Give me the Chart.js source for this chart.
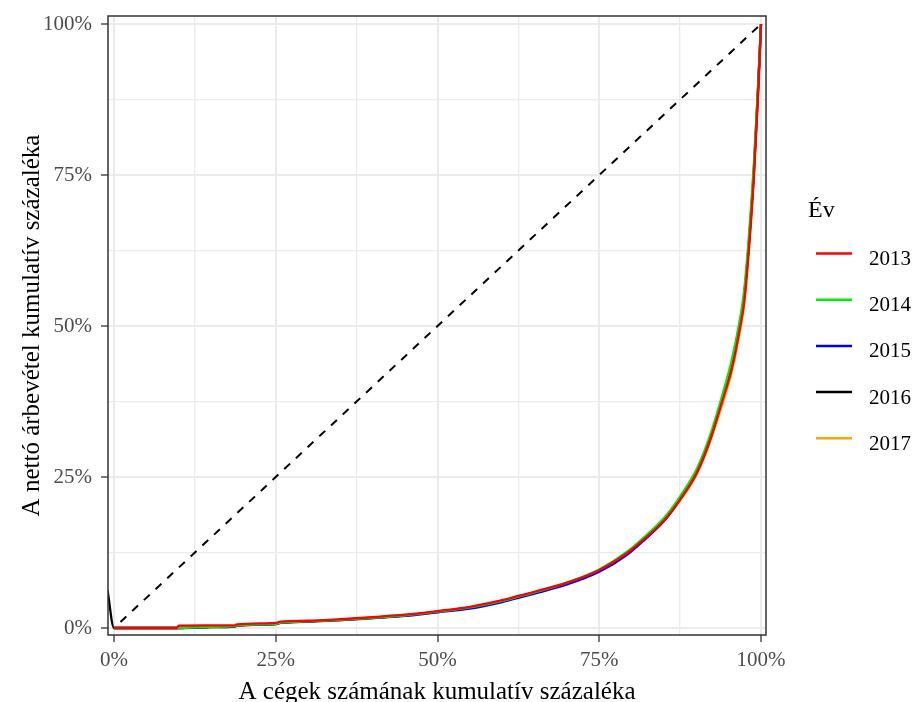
<!DOCTYPE html>
<html>
<head>
<meta charset="utf-8">
<script src="https://cdn.jsdelivr.net/npm/chart.js@4/dist/chart.umd.min.js"></script>
<style>
html,body{margin:0;padding:0;background:#fff;}
#c{display:block;}
</style>
</head>
<body>
<canvas id="c" width="919" height="702"></canvas>
<script>
// ---- data ----
const years = ['2013', '2014', '2015', '2016', '2017'];
const colors = ['#FF0000', '#00EE00', '#0000FF', '#000000', '#FFA500'];
// cumulative share of firms (x)
const cumFirms = [0, 0.05, 0.097, 0.10, 0.15, 0.187, 0.19, 0.25, 0.257, 0.30, 0.35, 0.40, 0.45, 0.50, 0.55, 0.60, 0.625, 0.65, 0.70, 0.75, 0.794, 0.82, 0.85, 0.875, 0.901, 0.92, 0.94, 0.955, 0.968, 0.974, 0.981, 0.989, 0.995, 1.0];
// cumulative share of net revenue (y) per year
const rev2013 = [0, 0, 0, 0.004, 0.0042, 0.0045, 0.006, 0.0085, 0.0105, 0.012, 0.0145, 0.018, 0.022, 0.028, 0.035, 0.046, 0.053, 0.060, 0.075, 0.096, 0.125, 0.148, 0.178, 0.213, 0.258, 0.308, 0.375, 0.43, 0.50, 0.54, 0.625, 0.75, 0.875, 1.0];
const rev2014 = [0, 0, 0, 0, 0.002, 0.003, 0.0045, 0.007, 0.009, 0.011, 0.0135, 0.017, 0.021, 0.027, 0.034, 0.045, 0.052, 0.059, 0.075, 0.097, 0.127, 0.151, 0.182, 0.218, 0.264, 0.315, 0.385, 0.445, 0.515, 0.56, 0.645, 0.77, 0.89, 1.0];
const rev2015 = [0, 0, 0, 0, 0.0015, 0.0025, 0.004, 0.0065, 0.0085, 0.0105, 0.013, 0.0165, 0.020, 0.026, 0.032, 0.043, 0.05, 0.057, 0.072, 0.093, 0.122, 0.146, 0.177, 0.213, 0.258, 0.308, 0.378, 0.435, 0.505, 0.548, 0.632, 0.755, 0.88, 1.0];
const rev2016 = [0, 0, 0, 0, 0.002, 0.003, 0.0045, 0.007, 0.009, 0.011, 0.0135, 0.017, 0.021, 0.027, 0.034, 0.045, 0.052, 0.059, 0.074, 0.095, 0.125, 0.149, 0.180, 0.215, 0.260, 0.311, 0.38, 0.44, 0.51, 0.552, 0.636, 0.76, 0.885, 1.0];
const rev2017 = [0, 0, 0, 0, 0.001, 0.002, 0.0035, 0.006, 0.008, 0.010, 0.0125, 0.016, 0.020, 0.026, 0.033, 0.044, 0.051, 0.058, 0.073, 0.094, 0.123, 0.147, 0.177, 0.211, 0.255, 0.304, 0.37, 0.425, 0.495, 0.535, 0.62, 0.745, 0.87, 1.0];
// 2016 has an extra leading point
const lead2016X = [-0.01];
const lead2016Y = [0.062];
// equality (diagonal) line
const equalX = [0.01, 1.0];
const equalY = [0.01, 1.0];
// axis ticks
const tickValues = [0, 0.125, 0.25, 0.375, 0.5, 0.625, 0.75, 0.875, 1.0];
const majorTicks = [0, 0.25, 0.5, 0.75, 1.0];

const xTitle = 'A cégek számának kumulatív százaléka';
const yTitle = 'A nettó árbevétel kumulatív százaléka';
const legendTitle = 'Év';

// ---- build ----
const toPts = (xs, ys) => xs.map((x, i) => ({x: x, y: ys[i]}));
const revSeries = [rev2013, rev2014, rev2015, rev2016, rev2017];
const datasets = years.map((yr, i) => {
  let xs = cumFirms, ys = revSeries[i];
  if (yr === '2016') { xs = lead2016X.concat(cumFirms); ys = lead2016Y.concat(rev2016); }
  return {
    label: yr, data: toPts(xs, ys), borderColor: colors[i], backgroundColor: colors[i],
    borderWidth: 2.3, pointRadius: 0, cubicInterpolationMode: 'monotone', fill: false, inLegend: true
  };
});
datasets.push({
  label: 'equal', data: toPts(equalX, equalY), borderColor: '#000000',
  borderWidth: 2, borderDash: [8, 8], pointRadius: 0, tension: 0, fill: false, inLegend: false
});

const SERIF = "'Liberation Serif', 'Times New Roman', serif";
const isMajor = v => majorTicks.some(m => Math.abs(m - v) < 1e-9);
const fmt = v => Math.round(v * 100) + '%';

const gridOpts = {
  color: '#EBEBEB',
  lineWidth: ctx => (ctx.tick && isMajor(ctx.tick.value)) ? 2 : 1.3,
  tickColor: ctx => (ctx.tick && isMajor(ctx.tick.value)) ? '#333333' : 'rgba(0,0,0,0)',
  tickWidth: 1.3,
  tickLength: 7,
  drawTicks: true
};

const panelAndLegend = {
  id: 'panelAndLegend',
  afterDatasetsDraw(chart) {
    const {ctx, chartArea: a} = chart;
    ctx.save();
    ctx.strokeStyle = '#333333';
    ctx.lineWidth = 1.5;
    ctx.strokeRect(a.left, a.top, a.right - a.left, a.bottom - a.top);
    ctx.restore();
  },
  afterDraw(chart) {
    const {ctx} = chart;
    ctx.save();
    ctx.fillStyle = '#000';
    ctx.textBaseline = 'alphabetic';
    ctx.textAlign = 'left';
    ctx.font = '24px ' + SERIF;
    ctx.fillText(legendTitle, 808, 217);
    ctx.font = '21px ' + SERIF;
    const items = chart.data.datasets.filter(d => d.inLegend);
    items.forEach((d, i) => {
      const y = 253.5 + i * 46.2;
      ctx.strokeStyle = d.borderColor;
      ctx.lineWidth = 2.5;
      ctx.beginPath();
      ctx.moveTo(816, y);
      ctx.lineTo(852, y);
      ctx.stroke();
      ctx.fillText(d.label, 869, y + 11.5);
    });
    ctx.restore();
  }
};

new Chart(document.getElementById('c'), {
  type: 'line',
  data: {datasets: datasets},
  plugins: [panelAndLegend],
  options: {
    responsive: false,
    animation: false,
    devicePixelRatio: 1,
    layout: {padding: {top: 16, right: 153, left: 0, bottom: 0}},
    plugins: {legend: {display: false}, tooltip: {enabled: false}},
    scales: {
      x: {
        type: 'linear', min: -0.0093, max: 1.0077,
        afterBuildTicks: s => { s.ticks = tickValues.map(v => ({value: v})); },
        afterFit: s => { s.height = 67; s.paddingLeft = 0; s.paddingRight = 0; },
        grid: gridOpts,
        border: {display: false},
        ticks: {
          autoSkip: false, maxRotation: 0, padding: 6,
          color: '#4D4D4D', font: {family: SERIF, size: 21},
          callback: v => isMajor(v) ? fmt(v) : ''
        },
        title: {display: true, text: xTitle, color: '#000', font: {family: SERIF, size: 25, lineHeight: 0.8}, padding: {top: 0, bottom: 0}}
      },
      y: {
        type: 'linear', min: -0.0116, max: 1.0133,
        afterBuildTicks: s => { s.ticks = tickValues.map(v => ({value: v})); },
        afterFit: s => { s.width = 108; s.paddingTop = 0; s.paddingBottom = 0; },
        grid: gridOpts,
        border: {display: false},
        ticks: {
          autoSkip: false, padding: 9,
          color: '#4D4D4D', font: {family: SERIF, size: 21},
          callback: v => isMajor(v) ? fmt(v) : ''
        },
        title: {display: true, text: yTitle, color: '#000', font: {family: SERIF, size: 25, lineHeight: 1}, padding: {top: 20, bottom: 0}}
      }
    }
  }
});
</script>
</body>
</html>
